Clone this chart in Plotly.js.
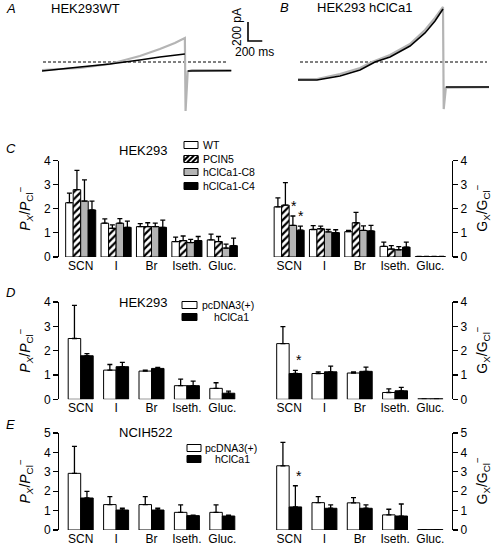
<!DOCTYPE html>
<html><head><meta charset="utf-8">
<script src="https://cdn.plot.ly/plotly-3.0.1.min.js"></script>
<style>html,body{margin:0;padding:0;background:#fff}#chart{width:492px;height:545px}</style>
</head><body><div id="chart"></div>
<script>
// ================= DATA =================
// Panel A (HEK293WT) whole-cell current traces: time (ms) / current (pA)
const tA_gray = [0, 530, 950, 1370, 1650, 1860, 2000, 2010, 2040, 2100, 2650];
const iA_gray = [-84, -63, -21, 63, 136, 199, 252, -515, -100, -84, -84];
const tA_black = [0, 530, 950, 1370, 1650, 2000, null, 2040, 2650];
const iA_black = [-95, -53, -21, 21, 53, 84, null, -95, -92];
const tA_zero = [14, 2604];
const iA_zero = [0, 0];
// Panel B (HEK293 hClCa1)
const tB_gray = [0, 266, 588, 868, 1036, 1288, 1568, 1778, 1918, 2030, 2040, 2070, 2674];
const iB_gray = [-179, -179, -126, -63, 0, 74, 189, 336, 462, 578, -494, -270, -263];
const tB_black = [0, 266, 588, 868, 1078, 1288, 1568, 1778, 1918, 2030, null, 2070, 2674];
const iB_black = [-189, -189, -147, -84, 0, 53, 168, 305, 431, 557, null, -263, -263];
const tB_zero = [28, 2646];
const iB_zero = [0, 0];
// Scale bar: 200 ms, 200 pA
const scaleT = [2884, 2884, 3084];
const scaleI = [420, 220, 220];

// Bar panels
const categories = ['SCN', 'I', 'Br', 'Iseth.', 'Gluc.'];

// C: HEK293, WT / PCIN5 / hClCa1-C8 / hClCa1-C4
const cNames = ['WT', 'PCIN5', 'hClCa1-C8', 'hClCa1-C4'];
const cP_WT    = [2.25, 1.40, 1.26, 0.64, 0.71];
const cP_WT_e  = [0.40, 0.18, 0.12, 0.18, 0.24];
const cP_PC    = [2.79, 1.19, 1.26, 0.68, 0.64];
const cP_PC_e  = [0.80, 0.14, 0.16, 0.19, 0.21];
const cP_C8    = [2.32, 1.40, 1.26, 0.60, 0.37];
const cP_C8_e  = [0.88, 0.19, 0.14, 0.13, 0.16];
const cP_C4    = [1.95, 1.23, 1.23, 0.68, 0.47];
const cP_C4_e  = [0.37, 0.26, 0.30, 0.17, 0.31];
const cG_WT    = [2.08, 1.14, 1.05, 0.44, 0.02];
const cG_WT_e  = [0.37, 0.16, 0.05, 0.18, 0];
const cG_PC    = [2.15, 1.17, 1.42, 0.33, 0.02];
const cG_PC_e  = [0.93, 0.11, 0.43, 0.14, 0];
const cG_C8    = [1.31, 1.04, 1.10, 0.30, 0.02];
const cG_C8_e  = [0.39, 0.10, 0.19, 0.13, 0];
const cG_C4    = [1.11, 1.01, 1.08, 0.41, 0.02];
const cG_C4_e  = [0.17, 0.12, 0.23, 0.21, 0];

// D: HEK293, pcDNA3(+) / hClCa1
const dNames = ['pcDNA3(+)', 'hClCa1'];
const dP_pc   = [2.50, 1.20, 1.16, 0.56, 0.45];
const dP_pc_e = [1.36, 0.23, 0.04, 0.27, 0.23];
const dP_h    = [1.79, 1.34, 1.27, 0.56, 0.25];
const dP_h_e  = [0.09, 0.18, 0.04, 0.19, 0.09];
const dG_pc   = [2.29, 1.06, 1.08, 0.28, 0.02];
const dG_pc_e = [0.70, 0.07, 0.05, 0.15, 0];
const dG_h    = [1.06, 1.13, 1.15, 0.35, 0.02];
const dG_h_e  = [0.13, 0.23, 0.17, 0.14, 0];

// E: NCIH522, pcDNA3(+) / hClCa1
const eNames = ['pcDNA3(+)', 'hClCa1'];
const eP_pc   = [2.92, 1.31, 1.31, 0.91, 0.91];
const eP_pc_e = [1.39, 0.41, 0.41, 0.38, 0.38];
const eP_h    = [1.65, 1.03, 1.03, 0.74, 0.72];
const eP_h_e  = [0.34, 0.09, 0.09, 0.03, 0.05];
const eG_pc   = [3.31, 1.41, 1.40, 0.78, 0.02];
const eG_pc_e = [1.21, 0.31, 0.27, 0.29, 0];
const eG_h    = [1.19, 1.12, 1.12, 0.72, 0.02];
const eG_h_e  = [1.09, 0.17, 0.17, 0.62, 0];

// ================= LAYOUT HELPERS =================
const W = 492, H = 545;
const PX = x => x / W;
const PY = y => 1 - y / H;
const FONT = 'Liberation Sans, Arial, Helvetica, sans-serif';
const GRAY_TRACE = '#b4b4b4';
const BAR_GRAY = '#b4b4b4';

const styles4 = [
  {color: '#ffffff'},
  {color: '#ffffff', pattern: {shape: '/', fgcolor: '#000', bgcolor: '#fff', size: 5, solidity: 0.45}},
  {color: BAR_GRAY},
  {color: '#000000'}
];
const styles2 = [{color: '#ffffff'}, {color: '#000000'}];

const traces = [];
const line = (x, y, xa, ya, color, width, dash) => ({
  type: 'scatter', mode: 'lines', x, y, xaxis: xa, yaxis: ya,
  line: {color, width, dash: dash || 'solid', simplify: false},
  connectgaps: false, showlegend: false, hoverinfo: 'skip'
});
traces.push(line(tA_zero, iA_zero, 'x', 'y', '#000', 1, '3px,2px'));
traces.push(line(tA_gray, iA_gray, 'x', 'y', GRAY_TRACE, 2.2));
traces.push(line(tA_black, iA_black, 'x', 'y', '#000', 1.6));
traces.push(line(scaleT, scaleI, 'x', 'y', '#000', 1.6));
traces.push(line(tB_zero, iB_zero, 'x2', 'y2', '#000', 1, '3px,2px'));
traces.push(line(tB_gray, iB_gray, 'x2', 'y2', GRAY_TRACE, 2.2));
traces.push(line(tB_black, iB_black, 'x2', 'y2', '#000', 1.6));

function addBars(xa, ya, series, errs, styles, w) {
  const n = series.length;
  series.forEach((vals, i) => {
    const st = styles[i];
    const marker = {color: st.color, line: {color: '#000', width: 1}};
    if (st.pattern) marker.pattern = st.pattern;
    traces.push({
      type: 'bar', x: categories, y: vals, xaxis: xa, yaxis: ya,
      width: w, offset: -n * w / 2 + i * w,
      marker,
      error_y: {type: 'data', symmetric: false, array: errs[i], arrayminus: vals.map(() => 0),
                color: '#000', thickness: 1.3, width: 2.5},
      showlegend: false, hoverinfo: 'skip'
    });
  });
}
const W4 = 0.2125, W2 = 0.353;
addBars('x3', 'y3', [cP_WT, cP_PC, cP_C8, cP_C4], [cP_WT_e, cP_PC_e, cP_C8_e, cP_C4_e], styles4, W4);
addBars('x4', 'y4', [cG_WT, cG_PC, cG_C8, cG_C4], [cG_WT_e, cG_PC_e, cG_C8_e, cG_C4_e], styles4, W4);
addBars('x5', 'y5', [dP_pc, dP_h], [dP_pc_e, dP_h_e], styles2, W2);
addBars('x6', 'y6', [dG_pc, dG_h], [dG_pc_e, dG_h_e], styles2, W2);
addBars('x7', 'y7', [eP_pc, eP_h], [eP_pc_e, eP_h_e], styles2, W2);
addBars('x8', 'y8', [eG_pc, eG_h], [eG_pc_e, eG_h_e], styles2, W2);

const layout = {
  width: W, height: H, margin: {l: 0, r: 0, t: 0, b: 0},
  paper_bgcolor: '#fff', plot_bgcolor: 'rgba(0,0,0,0)',
  font: {family: FONT, size: 12, color: '#000'},
  showlegend: false, barmode: 'group',
  xaxis:  {domain: [PX(42), PX(270)], range: [0, 3192], visible: false, fixedrange: true},
  yaxis:  {domain: [PY(120), PY(0)], range: [-609, 651], visible: false, fixedrange: true},
  xaxis2: {domain: [PX(298), PX(492)], range: [0, 2716], visible: false, fixedrange: true, anchor: 'y2'},
  yaxis2: {domain: [PY(120), PY(0)], range: [-609, 651], visible: false, fixedrange: true, anchor: 'x2'},
  annotations: [], shapes: []
};

const LEFT_X = [63, 240], RIGHT_X = [271.5, 448];
const panelsY = [[160.5, 257, 4], [302, 399.3, 4], [433, 530, 5]];
let ax = 3;
panelsY.forEach(([top, bot, ymax]) => {
  [[LEFT_X, 58, 'left'], [RIGHT_X, 452, 'right']].forEach(([xd, pos, side]) => {
    layout['xaxis' + ax] = {
      domain: [PX(xd[0]), PX(xd[1])], anchor: 'y' + ax, type: 'category',
      range: [-0.5, 4.5], showline: false, ticks: '', showgrid: false, zeroline: false,
      tickfont: {size: 12, family: FONT, color: '#000'}, fixedrange: true
    };
    layout['yaxis' + ax] = {
      domain: [PY(bot), PY(top)], range: [0, ymax], anchor: 'free', position: PX(pos), side,
      showline: true, linecolor: '#000', linewidth: 1.2, ticks: 'outside', ticklen: 5,
      tickwidth: 1.2, tickcolor: '#000', dtick: 1, tick0: 0, showgrid: false, zeroline: false,
      tickfont: {size: 12, family: FONT, color: '#000'}, fixedrange: true
    };
    ax++;
  });
});

const ann = layout.annotations;
const txt = (text, x, y, opt) => ann.push(Object.assign({
  text, x: PX(x), y: PY(y), xref: 'paper', yref: 'paper', showarrow: false,
  xanchor: 'left', yanchor: 'middle', font: {family: FONT, size: 13, color: '#000000'}
}, opt || {}));
txt('<i>A</i>', 4, 8);
txt('HEK293WT', 49, 8);
txt('<i>B</i>', 278, 7);
txt('HEK293 hClCa1', 315, 7);
txt('200 pA', 237, 27, {xanchor: 'center', textangle: -90, font: {family: FONT, size: 12, color: '#000000'}});
txt('200 ms', 254, 52, {xanchor: 'center', font: {family: FONT, size: 12, color: '#000000'}});
txt('<i>C</i>', 4, 148);
txt('HEK293', 117, 150);
txt('<i>D</i>', 4, 292);
txt('HEK293', 117, 302);
txt('<i>E</i>', 4, 424);
txt('NCIH522', 117, 432);

const leftTitle = '<i>P</i><sub><i>X</i></sub>/<i>P</i><sub>Cl</sub><sup>−</sup>';
const rightTitle = 'G<sub>X</sub>/G<sub>Cl</sub><sup>−</sup>';
panelsY.forEach(([top, bot]) => {
  const yc = (top + bot) / 2;
  txt(leftTitle, 25, yc, {xanchor: 'center', textangle: -90, font: {family: FONT, size: 14, color: '#000000'}});
  txt(rightTitle, 482, yc, {xanchor: 'center', textangle: -90, font: {family: FONT, size: 14, color: '#000000'}});
});

// significance stars (category index + bar offset)
const star = (xa, ya, xIdx, yTop) => ann.push({
  text: '*', x: xIdx, y: yTop, xref: xa, yref: ya, showarrow: false,
  xanchor: 'center', yanchor: 'bottom', font: {family: FONT, size: 14, color: '#000000'}
});
star('x4', 'y4', 0 + 0.5 * W4 + 0.02, cG_C8[0] + cG_C8_e[0]);
star('x4', 'y4', 0 + 1.5 * W4 + 0.02, cG_C4[0] + cG_C4_e[0]);
star('x6', 'y6', 0 + 0.5 * W2 + 0.1, dG_h[0] + dG_h_e[0]);
star('x8', 'y8', 0 + 0.5 * W2 + 0.1, eG_h[0] + eG_h_e[0]);

// legends (swatches + labels)
function legend(names, styles, x0, x1, ys, textX, h) {
  names.forEach((nm, i) => {
    const yc = ys[i], y0 = yc - h / 2, y1 = yc + h / 2;
    layout.shapes.push({type: 'rect', xref: 'paper', yref: 'paper',
      x0: PX(x0), x1: PX(x1), y0: PY(y1), y1: PY(y0),
      fillcolor: styles[i].color, line: {color: '#000', width: 1}});
    if (styles[i].pattern) {
      for (let a = x0 - h; a < x1; a += 5) {
        const tMin = Math.max(0, x0 - a), tMax = Math.min(h, x1 - a);
        if (tMax <= tMin) continue;
        layout.shapes.push({type: 'line', xref: 'paper', yref: 'paper',
          x0: PX(a + tMin), y0: PY(y1 - tMin), x1: PX(a + tMax), y1: PY(y1 - tMax),
          line: {color: '#000', width: 2.2}});
      }
      layout.shapes.push({type: 'rect', xref: 'paper', yref: 'paper',
        x0: PX(x0), x1: PX(x1), y0: PY(y1), y1: PY(y0),
        fillcolor: 'rgba(0,0,0,0)', line: {color: '#000', width: 1}});
    }
    txt(nm, textX[i], yc, {font: {family: FONT, size: 10.5, color: '#000000'}});
  });
}
legend(cNames, styles4, 184, 198, [145, 159, 172, 186], [201, 201, 201, 201], 7);
legend(dNames, styles2, 182, 197, [305, 317], [200, 212], 7);
legend(eNames, styles2, 187, 201, [448, 459], [203, 213], 7);

Plotly.newPlot('chart', traces, layout, {staticPlot: true, displayModeBar: false});
</script></body></html>
